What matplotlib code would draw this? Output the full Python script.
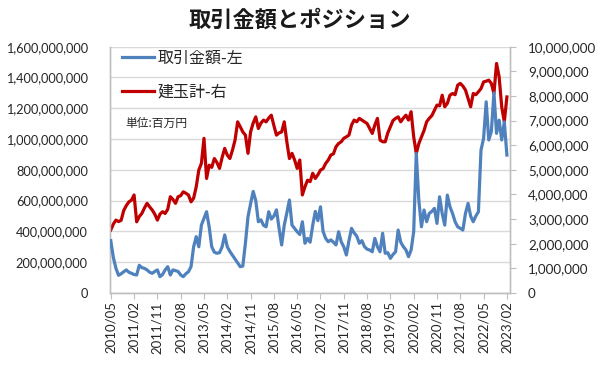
import matplotlib
matplotlib.use("Agg")
import matplotlib.pyplot as plt
import numpy as np

plt.rcParams['font.family'] = ['Lato', 'Noto Sans CJK JP', 'DejaVu Sans']

# Monthly, 2010/05 .. 2023/02
start_year, start_month = 2010, 5
n_months = 154

# 取引金額 (left axis, in million yen)
trade_value_mn = [
    340, 230, 160, 115, 125, 138, 150, 135, 128, 120,
    117, 180, 165, 160, 150, 135, 128, 140, 150, 106,
    120, 150, 171, 117, 150, 145, 140, 117, 106, 125,
    138, 171, 300, 366, 300, 441, 485, 528, 430, 300,
    265, 258, 262, 300, 377, 300, 270, 245, 220, 195,
    171, 175, 323, 495, 580, 660, 600, 463, 475, 440,
    430, 528, 480, 500, 540, 420, 312, 440, 520, 604,
    441, 420, 398, 380, 463, 323, 355, 330, 440, 530,
    470, 560, 400, 355, 333, 345, 330, 312, 398, 333,
    300, 247, 340, 420, 390, 370, 323, 340, 301, 285,
    279, 268, 355, 300, 268, 388, 258, 262, 225, 250,
    268, 409, 330, 301, 280, 236, 279, 398, 907, 600,
    430, 539, 463, 517, 530, 550, 452, 625, 517, 441,
    636, 560, 517, 463, 430, 420, 409, 517, 582, 500,
    463, 500, 528, 929, 1004, 1242, 994, 1050, 1300, 1037,
    1123, 994, 1112, 896,
]

# 建玉計 (right axis, in million contracts)
open_interest_mn = [
    2.56, 2.80, 2.96, 2.90, 2.95, 3.35, 3.55, 3.70, 3.77, 3.98,
    2.89, 3.10, 3.23, 3.45, 3.64, 3.50, 3.37, 3.20, 2.96, 3.20,
    3.30, 3.23, 3.40, 3.91, 3.80, 3.64, 3.91, 3.95, 4.11, 4.05,
    3.98, 3.70, 3.85, 4.31, 4.99, 5.26, 6.28, 4.65, 5.19, 5.10,
    5.46, 5.30, 5.06, 5.50, 5.87, 5.60, 5.46, 5.80, 6.21, 6.95,
    6.75, 6.54, 6.41, 5.67, 6.54, 6.90, 7.15, 6.68, 6.90, 7.02,
    6.95, 7.10, 7.22, 6.80, 6.41, 6.50, 6.54, 6.95, 6.14, 5.46,
    5.67, 5.40, 5.06, 5.40, 3.98, 4.31, 4.58, 4.52, 4.86, 4.65,
    4.80, 4.99, 5.05, 5.26, 5.40, 5.60, 5.65, 5.94, 6.07, 6.14,
    6.28, 6.34, 6.41, 6.82, 7.02, 6.95, 7.09, 7.02, 6.95, 6.88,
    6.68, 6.48, 6.82, 7.09, 6.21, 6.14, 6.14, 6.50, 6.75, 7.00,
    7.09, 7.15, 6.95, 7.10, 7.22, 7.02, 7.36, 6.34, 5.67, 6.07,
    6.34, 6.60, 6.95, 7.09, 7.20, 7.42, 7.63, 7.60, 8.03, 7.56,
    7.70, 8.03, 8.10, 8.05, 8.44, 8.51, 8.40, 8.24, 7.90, 7.56,
    8.10, 8.05, 8.17, 8.30, 8.57, 8.60, 8.64, 8.51, 8.10, 9.32,
    8.78, 7.56, 6.95, 7.96,
]

labels_all = []
y, m = start_year, start_month
for _ in range(n_months):
    labels_all.append(f"{y}/{m:02d}")
    m += 1
    if m > 12:
        m = 1
        y += 1

tick_step = 9
x = np.arange(n_months)
trade_yen = np.array(trade_value_mn) * 1e6
oi = np.array(open_interest_mn) * 1e6

title = "取引金額とポジション"
legend_blue = "取引金額-左"
legend_red = "建玉計-右"
unit_note = "単位:百万円"

blue = "#4F81BD"
red = "#C00000"
grid_c = "#D9D9D9"
axis_c = "#BFBFBF"
text_c = "#262626"

fig = plt.figure(figsize=(6.0, 3.7), dpi=100)
fig.patch.set_facecolor("white")
pos = [110 / 600, 1 - 293 / 370, 400 / 600, (293 - 46.7) / 370]

ax = fig.add_axes(pos)
ax.set_zorder(0)
ax2 = ax.twinx()
ax2.set_zorder(1)
ax2.patch.set_visible(False)
ax3 = fig.add_axes(pos, sharex=ax, sharey=ax)
ax3.set_zorder(2)
ax3.patch.set_visible(False)
ax3.axis("off")

# red on secondary axis
l_red, = ax2.plot(x, oi, color=red, lw=2.3, solid_joinstyle="round")
# blue on primary axis (drawn on top)
l_blue, = ax3.plot(x, trade_yen, color=blue, lw=2.3, solid_joinstyle="round")

ax.set_xlim(-0.3, n_months - 1 + 1.2)
ax.set_ylim(0, 1.6e9)
ax2.set_ylim(0, 1.0e7)

ax.set_yticks(np.arange(0, 1.6e9 + 1, 2e8))
ax.yaxis.set_major_formatter(matplotlib.ticker.FuncFormatter(lambda v, p: f"{int(round(v)):,}"))
ax2.set_yticks(np.arange(0, 1.0e7 + 1, 1e6))
ax2.yaxis.set_major_formatter(matplotlib.ticker.FuncFormatter(lambda v, p: f"{int(round(v)):,}"))

ax.grid(axis="y", color=grid_c, lw=1.0)
ax.set_axisbelow(True)

tick_pos = x[::tick_step]
ax.set_xticks(tick_pos)
ax.set_xticklabels([labels_all[i] for i in tick_pos], rotation=90, fontsize=9.5, color=text_c)
ax.tick_params(axis="x", direction="out", length=4, color=axis_c, pad=2)
ax.tick_params(axis="y", length=0, pad=16, labelsize=9.2, labelcolor=text_c)
ax2.tick_params(axis="y", direction="out", length=4, color=axis_c, pad=9,
                labelsize=9.6, labelcolor=text_c)

for a in (ax, ax2):
    a.spines["top"].set_visible(False)
    for s in ("left", "right", "bottom"):
        a.spines[s].set_color(axis_c)
        a.spines[s].set_linewidth(1.0)

ax.text(0.0375, 0.69, unit_note, transform=ax.transAxes, fontsize=8.5,
        color=text_c, va="center", ha="left", family=['Noto Sans CJK JP'])

leg = ax3.legend([l_blue, l_red], [legend_blue, legend_red], loc="upper left",
                 bbox_to_anchor=(0.015, 1.015), frameon=False,
                 handlelength=2.0, handletextpad=0.2, labelspacing=1.05,
                 borderaxespad=0.0, prop={'family': ['Noto Sans CJK JP'], 'size': 11.5})
for t in leg.get_texts():
    t.set_color(text_c)

fig.text(0.5, 1 - 20 / 370, title, ha="center", va="center", fontsize=16,
         fontweight="bold", color="#1a1a1a", family=['Noto Sans CJK JP'])

fig.savefig("out.png", dpi=100, facecolor="white")
